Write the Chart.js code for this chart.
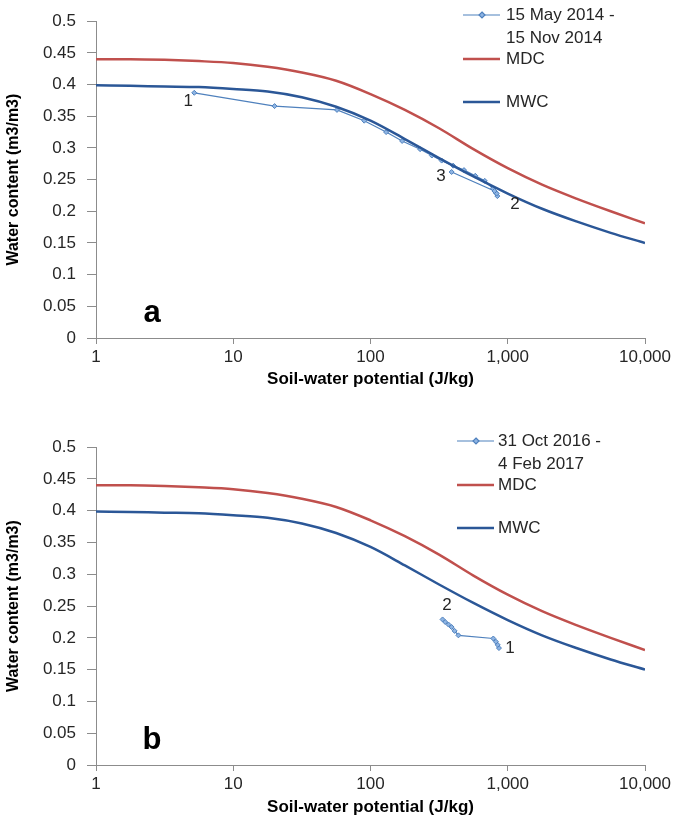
<!DOCTYPE html>
<html>
<head>
<meta charset="utf-8">
<script src="https://cdn.jsdelivr.net/npm/chart.js@4.4.0/dist/chart.umd.min.js"></script>
<style>
  body { margin: 0; background: #fff; }
  canvas { position: absolute; left: 0; }
  #chartA { top: 0; }
  #chartB { top: 426px; }
</style>
</head>
<body>
<canvas id="chartA" width="685" height="413"></canvas>
<canvas id="chartB" width="685" height="413"></canvas>
<script>
// retention curves (same in both panels), read every quarter decade
const curvePotential = [1, 1.78, 3.16, 5.62, 10, 17.8, 31.6, 56.2, 100, 178, 316, 562, 1000, 1778, 3162, 5623, 10000];
const mdcWater = [0.440, 0.440, 0.439, 0.437, 0.434, 0.428, 0.419, 0.406, 0.385, 0.360, 0.331, 0.298, 0.268, 0.242, 0.220, 0.200, 0.181];
const mwcWater = [0.399, 0.398, 0.397, 0.396, 0.393, 0.389, 0.380, 0.365, 0.343, 0.314, 0.284, 0.255, 0.228, 0.204, 0.184, 0.166, 0.150];

// panel a measurements
const potentialA = [5.2, 20, 57, 90, 130, 170, 230, 280, 330, 400, 480, 580, 680, 780, 820, 840, 830, 800, 390];
const waterA = [0.387, 0.366, 0.360, 0.343, 0.325, 0.311, 0.298, 0.288, 0.280, 0.272, 0.265, 0.256, 0.248, 0.236, 0.229, 0.224, 0.228, 0.232, 0.262];
const tagsA = ["1", "2", "3"];
const tagXA = [4.7, 1130, 326];
const tagYA = [0.373, 0.211, 0.255];

// panel b measurements
const potentialB = [863, 845, 820, 785, 437, 410, 390, 370, 350, 335];
const waterB = [0.184, 0.189, 0.194, 0.199, 0.204, 0.211, 0.217, 0.221, 0.225, 0.229];
const tagsB = ["1", "2"];
const tagXB = [1038, 361];
const tagYB = [0.183, 0.252];

const xTicks = [1, 10, 100, 1000, 10000];

function toPoints(xs, ys) {
  return xs.map((x, i) => ({ x: x, y: ys[i] }));
}

// text labels + legend drawn on top
const annotate = {
  id: "annotate",
  afterDraw(chart) {
    const o = chart.options.plugins.annotate;
    const ctx = chart.ctx;
    const sx = chart.scales.x, sy = chart.scales.y;
    ctx.save();
    ctx.fillStyle = "#262626";
    ctx.textAlign = "center";
    ctx.textBaseline = "middle";
    ctx.font = "17px 'Liberation Sans', Arial, sans-serif";
    o.tags.forEach((t, i) => {
      ctx.fillText(t, sx.getPixelForValue(o.tagX[i]), sy.getPixelForValue(o.tagY[i]));
    });
    ctx.font = "bold 31px 'Liberation Sans', Arial, sans-serif";
    ctx.fillStyle = "#000";
    ctx.fillText(o.letter, sx.getPixelForValue(2.56), sy.getPixelForValue(0.038));

    // legend
    const lx = o.legendX, tx = o.legendTextX;
    ctx.textAlign = "left";
    ctx.font = "17px 'Liberation Sans', Arial, sans-serif";
    ctx.strokeStyle = "#4F81BD";
    ctx.lineWidth = 1.2;
    ctx.beginPath(); ctx.moveTo(lx, 15); ctx.lineTo(lx + 37, 15); ctx.stroke();
    const mx = lx + 19;
    ctx.fillStyle = "#8EB4E3";
    ctx.beginPath(); ctx.moveTo(mx, 12); ctx.lineTo(mx + 3, 15); ctx.lineTo(mx, 18); ctx.lineTo(mx - 3, 15); ctx.closePath(); ctx.fill(); ctx.stroke();
    ctx.fillStyle = "#262626";
    ctx.fillText(o.legend[0], tx, 15);
    ctx.fillText(o.legend[1], tx, 38);
    ctx.lineWidth = 2.5;
    ctx.strokeStyle = "#C0504D";
    ctx.beginPath(); ctx.moveTo(lx, 59); ctx.lineTo(lx + 37, 59); ctx.stroke();
    ctx.fillText("MDC", tx, 59);
    ctx.strokeStyle = "#2B5797";
    ctx.beginPath(); ctx.moveTo(lx, 102); ctx.lineTo(lx + 37, 102); ctx.stroke();
    ctx.fillText("MWC", tx, 102);
    ctx.restore();
  }
};

function makeChart(id, xs, ys, opts) {
  return new Chart(document.getElementById(id), {
    type: "line",
    data: {
      datasets: [
        {
          label: "MDC",
          data: toPoints(curvePotential, mdcWater),
          borderColor: "#C0504D",
          borderWidth: 2.5,
          pointRadius: 0,
          cubicInterpolationMode: "monotone",
          fill: false,
        },
        {
          label: "MWC",
          data: toPoints(curvePotential, mwcWater),
          borderColor: "#2B5797",
          borderWidth: 2.5,
          pointRadius: 0,
          cubicInterpolationMode: "monotone",
          fill: false,
        },
        {
          label: opts.legend.join(" "),
          data: toPoints(xs, ys),
          borderColor: "#4F81BD",
          borderWidth: 1.2,
          pointStyle: "rectRot",
          pointRadius: 2.5,
          pointBackgroundColor: "#8EB4E3",
          pointBorderColor: "#4F81BD",
          pointBorderWidth: 1,
          tension: 0,
          fill: false,
        },
      ],
    },
    options: {
      responsive: false,
      animation: false,
      layout: { padding: { left: 0, right: 40, top: 20, bottom: 0 } },
      plugins: {
        legend: { display: false },
        tooltip: { enabled: false },
        annotate: opts,
      },
      scales: {
        x: {
          type: "logarithmic",
          min: 1,
          max: 10000,
          afterBuildTicks(scale) {
            scale.ticks = xTicks.map(v => ({ value: v }));
          },
          afterFit(scale) { scale.height = opts.xAxisHeight; },
          ticks: {
            color: "#262626",
            font: { size: 17, family: "'Liberation Sans', Arial, sans-serif" },
            padding: 3,
            maxRotation: 0,
            callback: v => Number(v).toLocaleString("en-US"),
          },
          grid: { drawOnChartArea: false, tickLength: 6, color: "#8c8c8c" },
          border: { color: "#8c8c8c" },
          title: {
            display: true,
            text: "Soil-water potential (J/kg)",
            color: "#000",
            font: { size: 17, weight: "bold", family: "'Liberation Sans', Arial, sans-serif" },
            padding: { top: 4, bottom: opts.xTitlePad },
          },
        },
        y: {
          min: 0,
          max: 0.5,
          afterFit(scale) { scale.width = 96; },
          ticks: {
            stepSize: 0.05,
            color: "#262626",
            font: { size: 17, family: "'Liberation Sans', Arial, sans-serif" },
            padding: 11,
            callback: v => String(Number(v.toFixed(2))),
          },
          grid: { drawOnChartArea: false, tickLength: 9, color: "#8c8c8c" },
          border: { color: "#8c8c8c" },
          title: {
            display: true,
            text: "Water content (m3/m3)",
            color: "#000",
            font: { size: 16, weight: "bold", family: "'Liberation Sans', Arial, sans-serif" },
            padding: { top: 4, bottom: 4 },
          },
        },
      },
    },
    plugins: [annotate],
  });
}

makeChart("chartA", potentialA, waterA, {
  tags: tagsA, tagX: tagXA, tagY: tagYA, letter: "a",
  legend: ["15 May 2014 -", "15 Nov 2014"],
  legendX: 463, legendTextX: 506,
  xAxisHeight: 75, xTitlePad: 23,
});

makeChart("chartB", potentialB, waterB, {
  tags: tagsB, tagX: tagXB, tagY: tagYB, letter: "b",
  legend: ["31 Oct 2016 -", "4 Feb 2017"],
  legendX: 457, legendTextX: 498,
  xAxisHeight: 74, xTitlePad: 21,
});
</script>
</body>
</html>
